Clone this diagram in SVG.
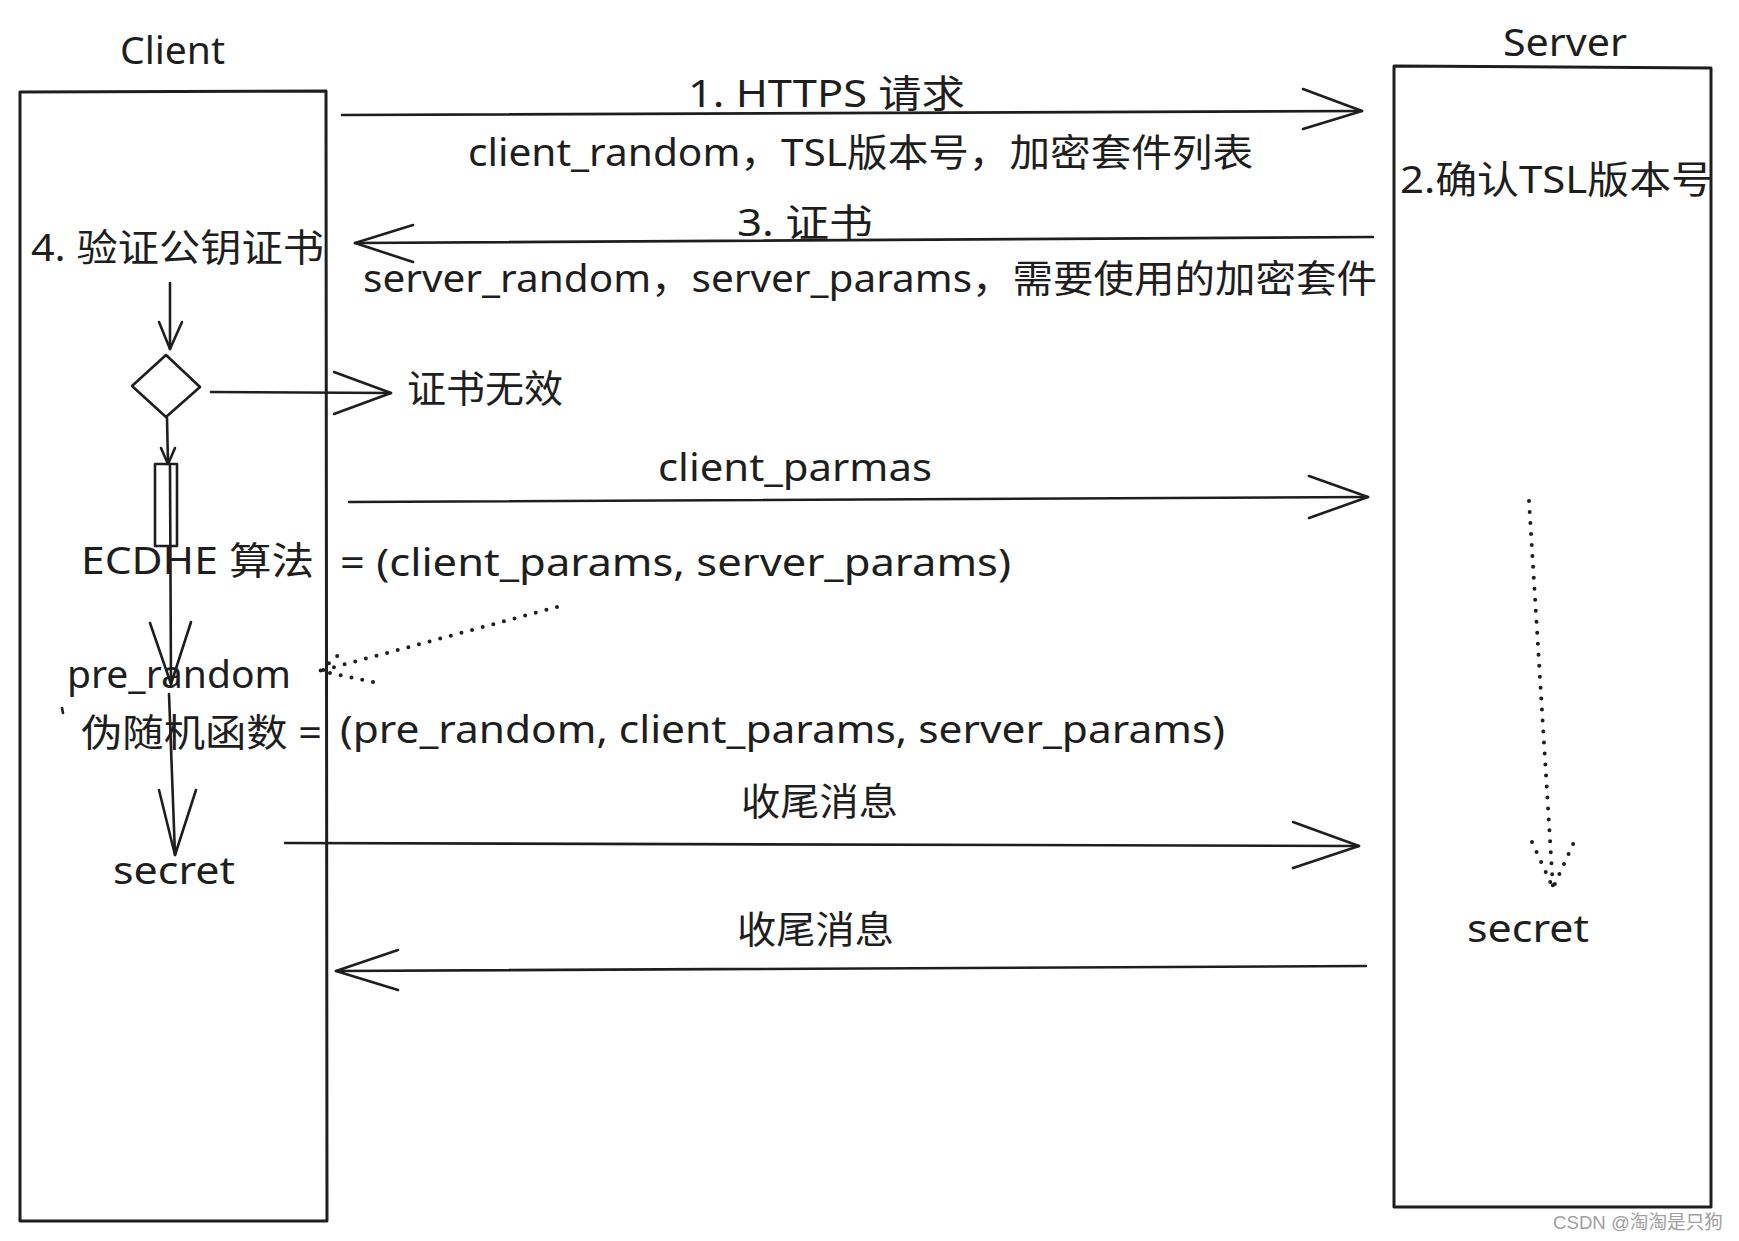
<svg xmlns="http://www.w3.org/2000/svg" width="1739" height="1241" viewBox="0 0 1739 1241">
<style>
.bg{fill:#ffffff}
.s{fill:none;stroke:#1e1e1e;stroke-width:2.6;stroke-linecap:round;stroke-linejoin:round}
.box{fill:none;stroke:#1e1e1e;stroke-width:3;stroke-linejoin:round}
.dot{fill:none;stroke:#1e1e1e;stroke-width:4;stroke-linecap:round;stroke-dasharray:0 11}
.t{font-family:"Noto Sans","Noto Sans CJK SC",sans-serif;font-size:38px;fill:#1e1e1e}
.wm{font-family:"Liberation Sans","Noto Sans CJK SC",sans-serif;font-size:19px;fill:#a0a0a0}
</style>
<rect class="bg" x="0" y="0" width="1739" height="1241"/>

<g id="client">
  <path class="box" d="M20,92 L326,91 L327,1221 L20,1221 Z"/>
  <text class="t" x="120" y="64" textLength="105" lengthAdjust="spacingAndGlyphs">Client</text>
</g>
<g id="server">
  <path class="box" d="M1394,66 L1711,68 L1711,1207 L1394,1207 Z"/>
  <text class="t" x="1503" y="56" textLength="124" lengthAdjust="spacingAndGlyphs">Server</text>
</g>
<g id="verify-cert">
  <text class="t" x="31" y="261" textLength="293" lengthAdjust="spacingAndGlyphs">4. 验证公钥证书</text>
</g>
<g id="confirm-tsl">
  <text class="t" x="1400" y="193" textLength="313" lengthAdjust="spacingAndGlyphs">2.确认TSL版本号</text>
</g>
<g id="decision">
  <polygon class="s" points="132,386 166,355 200,387 166,417"/>
</g>
<g id="invalid-cert">
  <text class="t" x="407" y="402" textLength="156" lengthAdjust="spacingAndGlyphs">证书无效</text>
</g>
<g id="small-rect">
  <rect class="s" x="155" y="464" width="22" height="82"/>
</g>
<g id="ecdhe">
  <text class="t" x="81" y="574" textLength="233" lengthAdjust="spacingAndGlyphs">ECDHE 算法</text>
  <text class="t" x="340" y="576" textLength="671" lengthAdjust="spacingAndGlyphs">= (client_params, server_params)</text>
</g>
<g id="pre-random">
  <text class="t" x="67" y="688" textLength="224" lengthAdjust="spacingAndGlyphs">pre_random</text>
</g>
<g id="prf">
  <text class="t" x="81" y="746" textLength="241" lengthAdjust="spacingAndGlyphs">伪随机函数 =</text>
  <text class="t" x="340" y="743" textLength="885" lengthAdjust="spacingAndGlyphs">(pre_random, client_params, server_params)</text>
  <path class="s" d="M62,708 L63,713" stroke-width="1.5"/>
</g>
<g id="client-secret">
  <text class="t" x="113" y="884" textLength="122" lengthAdjust="spacingAndGlyphs">secret</text>
</g>
<g id="server-secret">
  <text class="t" x="1467" y="942" textLength="122" lengthAdjust="spacingAndGlyphs">secret</text>
</g>

<g id="connectors">
  <!-- 1. HTTPS request -->
  <path class="s" d="M342,115 L1362,111"/>
  <path class="s" d="M1303,89 L1362,111 L1303,129"/>
  <text class="t" x="688" y="107" textLength="277" lengthAdjust="spacingAndGlyphs">1. HTTPS 请求</text>
  <text class="t" x="468" y="166" textLength="785" lengthAdjust="spacingAndGlyphs">client_random，TSL版本号，加密套件列表</text>
  <!-- 3. certificate -->
  <path class="s" d="M1373,237 L355,243"/>
  <path class="s" d="M413,225 L355,243 L413,262"/>
  <text class="t" x="737" y="236" textLength="136" lengthAdjust="spacingAndGlyphs">3. 证书</text>
  <text class="t" x="363" y="292" textLength="1014" lengthAdjust="spacingAndGlyphs">server_random，server_params，需要使用的加密套件</text>
  <!-- verify -> decision -->
  <path class="s" d="M170,283 L170,349"/>
  <path class="s" d="M159,322 L170,349 L182,322"/>
  <!-- decision -> invalid -->
  <path class="s" d="M211,392 L391,393"/>
  <path class="s" d="M334,372 L391,393 L334,414"/>
  <!-- decision -> rect -->
  <path class="s" d="M167,418 L168,464"/>
  <path class="s" d="M161,448 L168,464 L175,448"/>
  <!-- rect -> pre_random -->
  <path class="s" d="M170,466 L171,684"/>
  <path class="s" d="M150,623 L171,684 L191,622"/>
  <!-- pre_random -> secret -->
  <path class="s" d="M169,694 L175,855"/>
  <path class="s" d="M159,790 L175,855 L196,790"/>
  <!-- dotted: params -> pre_random -->
  <path class="dot" d="M557,607 L320,671"/>
  <path class="dot" d="M373,682 L320,671 L344,650"/>
  <!-- client_parmas -->
  <path class="s" d="M349,502 L1368,497"/>
  <path class="s" d="M1309,476 L1368,497 L1309,518"/>
  <text class="t" x="658" y="481" textLength="274" lengthAdjust="spacingAndGlyphs">client_parmas</text>
  <!-- finished (client -> server) -->
  <path class="s" d="M285,843 L1359,846"/>
  <path class="s" d="M1293,822 L1359,846 L1293,868"/>
  <text class="t" x="741" y="815" textLength="157" lengthAdjust="spacingAndGlyphs">收尾消息</text>
  <!-- finished (server -> client) -->
  <path class="s" d="M1366,966 L336,971"/>
  <path class="s" d="M398,950 L336,971 L398,990"/>
  <text class="t" x="737" y="943" textLength="157" lengthAdjust="spacingAndGlyphs">收尾消息</text>
  <!-- server dotted -->
  <path class="dot" d="M1529,501 L1553,888"/>
  <path class="dot" d="M1532,842 L1553,888 L1574,842"/>
</g>

<text class="wm" x="1553" y="1229" textLength="170" lengthAdjust="spacingAndGlyphs">CSDN @淘淘是只狗</text>
</svg>
